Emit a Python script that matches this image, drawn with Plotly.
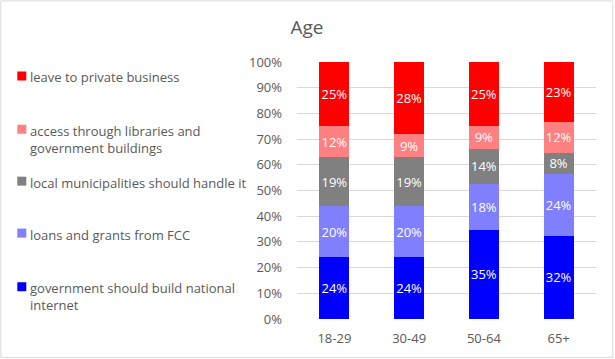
import plotly.graph_objects as go

categories = ["18-29", "30-49", "50-64", "65+"]
series_names = [
    "government should build national<br>internet",
    "loans and grants from FCC",
    "local municipalities should handle it",
    "access through libraries and<br>government buildings",
    "leave to private business",
]
series_colors = ["#0000FF", "#8080FF", "#808080", "#FF8080", "#FF0000"]
gov_build = [24, 24, 35, 32]
loans_fcc = [20, 20, 18, 24]
local_muni = [19, 19, 14, 8]
libraries = [12, 9, 9, 12]
private_biz = [25, 28, 25, 23]
series_values = [gov_build, loans_fcc, local_muni, libraries, private_biz]
ytick_vals = [0, 10, 20, 30, 40, 50, 60, 70, 80, 90, 100]
ytick_text = [f"{v}%" for v in ytick_vals]

W, H = 615, 359
L, R, T, B = 296.7, 595.7, 61.7, 319.0
pw, ph = R - L, B - T

def px2x(px):
    return (px - L) / pw

def px2y(py):
    return (B - py) / ph

FONT = "Open Sans"
GRAY = "#595959"

fig = go.Figure()
for name, color, vals in zip(series_names, series_colors, series_values):
    fig.add_trace(go.Bar(
        x=categories, y=vals, name=name,
        marker=dict(color=color, line=dict(width=0)),
        text=[f"{v}%" for v in vals],
        texttemplate="%{text}",
        textposition="inside", insidetextanchor="middle",
        textangle=0,
        textfont=dict(color="white", size=13, family=FONT),
        width=0.4, showlegend=False,
        hoverinfo="skip",
    ))

# manual legend (Excel-style: small squares, text on right)
legend_y = [75.7, 129.0, 181.0, 233.0, 286.7]  # first-line centre of each entry, top to bottom
for i, (name, color) in enumerate(zip(series_names[::-1], series_colors[::-1])):
    yc = legend_y[i]
    fig.add_shape(type="rect", xref="paper", yref="paper",
                  x0=px2x(17), x1=px2x(26), y0=px2y(yc + 4.5), y1=px2y(yc - 4.5),
                  fillcolor=color, line=dict(width=0))
    fig.add_annotation(xref="paper", yref="paper", x=px2x(28), y=px2y(yc - 9.5),
                       xanchor="left", yanchor="top", align="left",
                       text=name, showarrow=False,
                       font=dict(size=13, color=GRAY, family=FONT))

# outer chart border
fig.add_shape(type="rect", xref="paper", yref="paper",
              x0=px2x(0.5), x1=px2x(612.5), y0=px2y(357.5), y1=px2y(0.5),
              line=dict(color="#D9D9D9", width=1), fillcolor="rgba(0,0,0,0)", layer="below")

fig.update_layout(
    width=W, height=H,
    margin=dict(l=L, r=W - R, t=T, b=H - B, pad=0),
    barmode="stack", barnorm="percent",
    paper_bgcolor="white", plot_bgcolor="white",
    title=dict(text="Age", x=307 / W, xanchor="center", xref="container",
               y=1 - 27 / H, yanchor="middle",
               font=dict(size=19, color=GRAY, family=FONT)),
    font=dict(family=FONT, color=GRAY, size=13),
    xaxis=dict(type="category", range=[-0.5, 3.5], showgrid=False, showline=False,
               ticks="", tickfont=dict(size=13, color=GRAY), ticklabelstandoff=10,
               fixedrange=True),
    yaxis=dict(range=[0, 100], tickvals=ytick_vals, ticktext=ytick_text,
               showgrid=True, gridcolor="#D9D9D9", gridwidth=1,
               zeroline=False, showline=False, ticks="",
               tickfont=dict(size=13, color=GRAY), ticklabelstandoff=14,
               fixedrange=True),
    uniformtext=dict(mode="show", minsize=13),
)
fig.write_html("out.html", config={"displayModeBar": False},
               post_script="document.body.style.margin='0';document.body.style.padding='0';")
